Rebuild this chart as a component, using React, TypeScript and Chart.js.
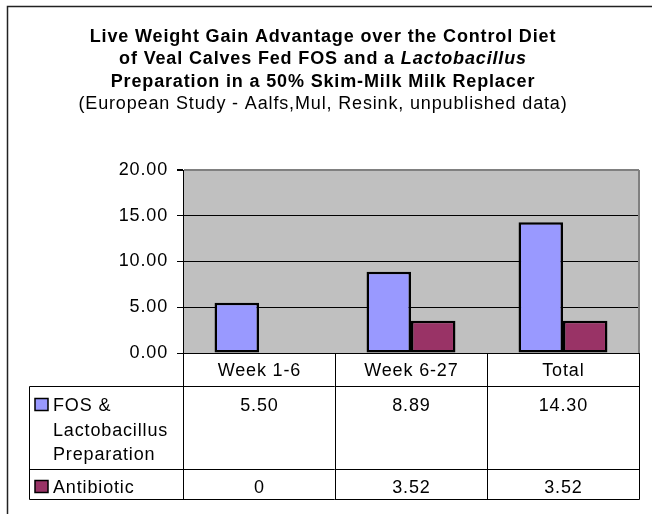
import React, { useEffect, useRef } from 'react';
import { Chart, registerables } from 'chart.js';

Chart.register(...registerables);

// ---- data ----
const categories = ['Week 1-6', 'Week 6-27', 'Total'];
const fosLabel = 'FOS & Lactobacillus Preparation';
const fosLabelLines = ['FOS &', 'Lactobacillus', 'Preparation'];
const fosValues = [5.5, 8.89, 14.3];
const antibioticLabel = 'Antibiotic';
const antibioticLabelLines = ['Antibiotic'];
const antibioticValues = [0, 3.52, 3.52];
const yMin = 0;
const yMax = 20;
const yStep = 5;

const titleLines = [
  [{ text: 'Live Weight Gain Advantage over the Control Diet', bold: true, italic: false }],
  [
    { text: 'of Veal Calves Fed FOS and a ', bold: true, italic: false },
    { text: 'Lactobacillus', bold: true, italic: true },
  ],
  [{ text: 'Preparation in a 50% Skim-Milk Milk Replacer', bold: true, italic: false }],
  [{ text: '(European Study - Aalfs,Mul, Resink, unpublished data)', bold: false, italic: false }],
];

const FOS_COLOR = '#9999FF';
const ANTI_COLOR = '#993366';
const PLOT_BG = '#C0C0C0';
const FAMILY = '"Liberation Sans", Arial, sans-serif';
const FONT_SIZE = 18;
const SPACING = '0.85px';

const fmtFos = (v: number) => v.toFixed(2);
const fmtAnti = (v: number) => String(v);

const decorPlugin = {
  id: 'decor',
  beforeDraw(chart: any) {
    const ctx = chart.ctx as CanvasRenderingContext2D;
    const { left, top, right, bottom } = chart.chartArea;
    ctx.save();
    ctx.fillStyle = '#ffffff';
    ctx.fillRect(0, 0, chart.width, chart.height);
    ctx.fillStyle = PLOT_BG;
    ctx.fillRect(left, top, right - left, bottom - top);
    ctx.restore();
    (ctx as any).letterSpacing = SPACING;
  },
  afterDraw(chart: any) {
    const ctx = chart.ctx as CanvasRenderingContext2D;
    const { left, top, right, bottom } = chart.chartArea;
    const xs = chart.scales.x;
    ctx.save();
    (ctx as any).letterSpacing = SPACING;

    // outer border (cropped on the right / bottom)
    ctx.strokeStyle = '#222';
    ctx.lineWidth = 1.5;
    ctx.beginPath();
    ctx.moveTo(7.5, chart.height);
    ctx.lineTo(7.5, 6.5);
    ctx.lineTo(chart.width, 6.5);
    ctx.stroke();

    // plot right border
    ctx.strokeStyle = '#808080';
    ctx.lineWidth = 2;
    ctx.beginPath();
    ctx.moveTo(right, top);
    ctx.lineTo(right, bottom);
    ctx.stroke();

    // title
    const baselines = [42, 64, 87, 109];
    const cx = 323;
    ctx.fillStyle = '#000';
    ctx.textBaseline = 'alphabetic';
    ctx.textAlign = 'left';
    titleLines.forEach((segs, i) => {
      const fonts = segs.map(
        (s) => `${s.italic ? 'italic ' : ''}${s.bold ? 'bold ' : ''}${FONT_SIZE}px ${FAMILY}`
      );
      let total = 0;
      const widths = segs.map((s, k) => {
        ctx.font = fonts[k];
        const w = ctx.measureText(s.text).width;
        total += w;
        return w;
      });
      let x = cx - total / 2;
      segs.forEach((s, k) => {
        ctx.font = fonts[k];
        ctx.fillText(s.text, x, baselines[i]);
        x += widths[k];
      });
    });

    // data table
    const n = categories.length;
    const colW = (right - left) / n;
    const tableLeft = 29.5;
    const headerBottom = 386.5;
    const row1Bottom = 469.5;
    const row2Bottom = 499.5;
    ctx.strokeStyle = '#000';
    ctx.lineWidth = 1;
    ctx.beginPath();
    for (let i = 0; i <= n; i++) {
      const x = Math.round(left + i * colW) + 0.5;
      ctx.moveTo(x, bottom);
      ctx.lineTo(x, row2Bottom);
    }
    ctx.moveTo(tableLeft, headerBottom);
    ctx.lineTo(tableLeft, row2Bottom);
    [headerBottom, row1Bottom, row2Bottom].forEach((y) => {
      ctx.moveTo(tableLeft, y);
      ctx.lineTo(right + 0.5, y);
    });
    ctx.stroke();

    ctx.font = `${FONT_SIZE}px ${FAMILY}`;
    ctx.fillStyle = '#000';
    ctx.textAlign = 'center';
    categories.forEach((c, i) => {
      const x = xs.getPixelForValue(i);
      ctx.fillText(c, x + 0.4, 376);
      ctx.fillText(fmtFos(fosValues[i]), x + 0.4, 411);
      ctx.fillText(fmtAnti(antibioticValues[i]), x + 0.4, 493);
    });

    ctx.textAlign = 'left';
    const fosBaselines = [411, 436, 460];
    fosLabelLines.forEach((t, i) => ctx.fillText(t, 53, fosBaselines[i]));
    antibioticLabelLines.forEach((t) => ctx.fillText(t, 53, 493));

    // legend keys
    const key = (y: number, color: string) => {
      ctx.fillStyle = color;
      ctx.fillRect(35, y, 13, 12);
      ctx.strokeStyle = '#000';
      ctx.lineWidth = 1.5;
      ctx.strokeRect(35, y, 13, 12);
    };
    key(398.5, FOS_COLOR);
    key(480.5, ANTI_COLOR);

    ctx.restore();
  },
};

export default function App() {
  const ref = useRef<HTMLCanvasElement | null>(null);

  useEffect(() => {
    if (!ref.current) return;
    const chart = new Chart(ref.current, {
      type: 'bar',
      data: {
        labels: categories,
        datasets: [
          {
            label: fosLabel,
            data: fosValues,
            backgroundColor: FOS_COLOR,
            borderColor: '#000',
            borderWidth: 2.5,
            borderSkipped: false,
            categoryPercentage: 0.585,
            barPercentage: 1,
          },
          {
            label: antibioticLabel,
            data: antibioticValues,
            backgroundColor: ANTI_COLOR,
            borderColor: '#000',
            borderWidth: 2.5,
            borderSkipped: false,
            categoryPercentage: 0.585,
            barPercentage: 1,
          },
        ],
      },
      options: {
        responsive: false,
        animation: false,
        events: [],
        layout: { padding: { left: 0, top: 170, right: 13, bottom: 161 } },
        plugins: {
          legend: { display: false },
          title: { display: false },
          tooltip: { enabled: false },
        },
        scales: {
          x: {
            display: false,
          },
          y: {
            min: yMin,
            max: yMax,
            afterFit: (scale: any) => {
              scale.width = 183;
            },
            ticks: {
              stepSize: yStep,
              color: '#000',
              padding: 9,
              font: { family: FAMILY, size: FONT_SIZE },
              callback: (v: any) => Number(v).toFixed(2),
            },
            grid: {
              color: (c: any) => (c.tick && c.tick.value === yMax ? '#808080' : '#000000'),
              lineWidth: (c: any) => (c.tick && c.tick.value === yMax ? 2 : 1),
              tickColor: '#000',
              tickLength: 6,
              drawTicks: true,
            },
            border: { display: true, color: '#000', width: 1 },
          },
        },
      },
      plugins: [decorPlugin],
    });
    return () => chart.destroy();
  }, []);

  return (
    <div style={{ position: 'absolute', left: 0, top: 0, width: 652, height: 514 }}>
      <canvas ref={ref} width={652} height={514} style={{ width: 652, height: 514 }} />
    </div>
  );
}
